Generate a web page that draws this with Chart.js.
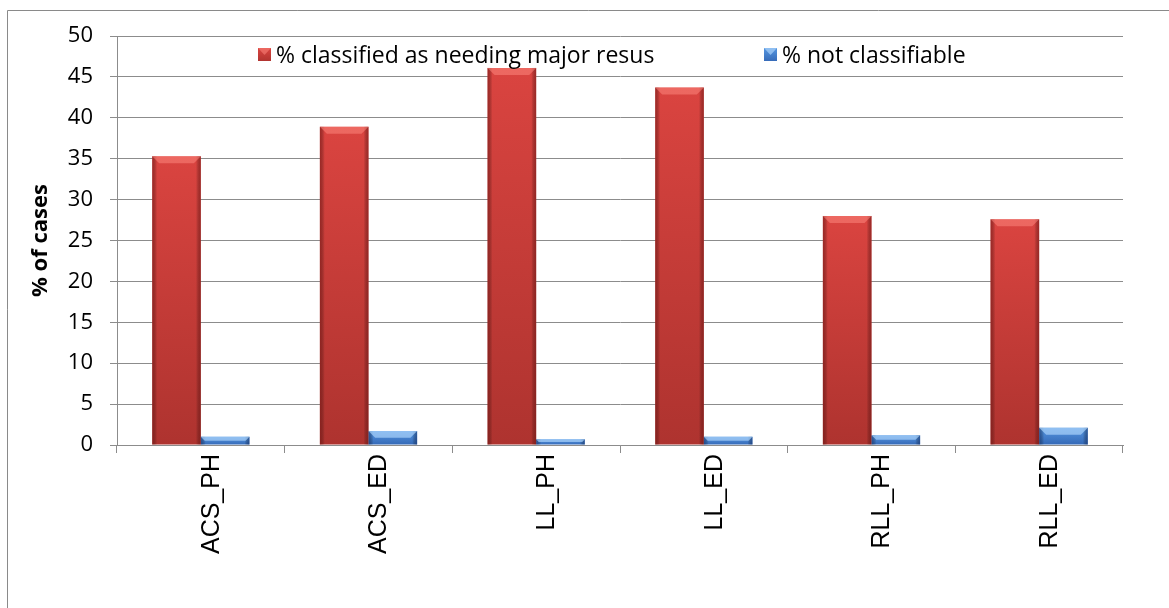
<!DOCTYPE html>
<html>
<head>
<meta charset="utf-8">
<script src="https://cdn.jsdelivr.net/npm/chart.js@4.4.1/dist/chart.umd.min.js"></script>
<style>
  html, body { margin: 0; padding: 0; background: #fff; }
  #wrap { width: 1169px; height: 608px; position: relative; }
</style>
</head>
<body>
<div id="wrap"><canvas id="chart"></canvas></div>
<script>
const categories = ["ACS_PH", "ACS_ED", "LL_PH", "LL_ED", "RLL_PH", "RLL_ED"]
const majorResus = [35.3, 38.9, 46.1, 43.7, 28.0, 27.6]
const notClassifiable = [1.0, 1.7, 0.7, 1.0, 1.2, 2.1]
const yMin = 0
const yMax = 50
const yStep = 5

const seriesNames = ["% classified as needing major resus", "% not classifiable"]

// colours for the bevelled bars: body top/bottom, side shade, top face
const looks = [
  { top: "#da4440", bottom: "#ae332f", edge: "rgba(110,20,18,0.55)", bevel: "rgba(255,140,130,0.5)" },
  { top: "#5596e0", bottom: "#3468b6", edge: "rgba(20,50,110,0.6)", bevel: "rgba(170,210,250,0.7)" }
]

const gridColor = "#8c8c8c"

function barFill(look) {
  return (c) => {
    const chart = c.chart
    const y = chart.scales.y
    if (!y || c.type !== "data" || !c.parsed) return look.bottom
    const yTop = y.getPixelForValue(c.parsed.y)
    const yBase = y.getPixelForValue(0)
    if (!isFinite(yTop) || !isFinite(yBase) || yTop === yBase) return look.bottom
    const g = chart.ctx.createLinearGradient(0, yTop, 0, yBase)
    g.addColorStop(0, look.top)
    g.addColorStop(1, look.bottom)
    return g
  }
}

// frame round the whole picture
const framePlugin = {
  id: "frame",
  beforeDraw(chart) {
    const ctx = chart.ctx
    ctx.save()
    ctx.fillStyle = "#fff"
    ctx.fillRect(0, 0, chart.width, chart.height)
    ctx.strokeStyle = "#8a8a8a"
    ctx.lineWidth = 1
    ctx.beginPath()
    ctx.moveTo(7.5, chart.height)
    ctx.lineTo(7.5, 10.5)
    ctx.lineTo(chart.width, 10.5)
    ctx.stroke()
    ctx.restore()
  }
}

// side shading and the raised top face on each bar
const bevelPlugin = {
  id: "bevel",
  afterDatasetsDraw(chart) {
    const ctx = chart.ctx
    ctx.save()
    chart.getSortedVisibleDatasetMetas().forEach((meta) => {
      const look = looks[meta.index]
      meta.data.forEach((bar) => {
        const { x, y, base, width } = bar.getProps(["x", "y", "base", "width"], true)
        const l = x - width / 2
        const r = x + width / 2
        const h = base - y
        if (h <= 0) return
        const g = ctx.createLinearGradient(l, 0, r, 0)
        g.addColorStop(0, look.edge)
        g.addColorStop(0.1, "rgba(0,0,0,0)")
        g.addColorStop(0.9, "rgba(0,0,0,0)")
        g.addColorStop(1, look.edge)
        ctx.fillStyle = g
        ctx.fillRect(l, y, width, h)

        const b = Math.min(7, h / 2)
        ctx.beginPath()
        ctx.moveTo(l, y)
        ctx.lineTo(r, y)
        ctx.lineTo(r - b, y + b)
        ctx.lineTo(l + b, y + b)
        ctx.closePath()
        ctx.fillStyle = look.bevel
        ctx.fill()
      })
    })
    ctx.restore()
  }
}

// legend sits inside the plot, across the top
const legendPlugin = {
  id: "innerLegend",
  afterDraw(chart) {
    const ctx = chart.ctx
    const area = chart.chartArea
    const slots = [area.left + 141, area.left + 647]
    const yMid = area.top + 19
    ctx.save()
    ctx.font = "23px 'Open Sans'"
    ctx.textBaseline = "middle"
    chart.data.datasets.forEach((ds, i) => {
      const look = looks[i]
      const sx = slots[i]
      const g = ctx.createLinearGradient(0, yMid - 7, 0, yMid + 7)
      g.addColorStop(0, look.top)
      g.addColorStop(1, look.bottom)
      ctx.fillStyle = g
      ctx.fillRect(sx, yMid - 7, 13, 13)
      ctx.beginPath()
      ctx.moveTo(sx, yMid - 7)
      ctx.lineTo(sx + 13, yMid - 7)
      ctx.lineTo(sx + 6.5, yMid)
      ctx.closePath()
      ctx.fillStyle = look.bevel
      ctx.fill()
      ctx.fillStyle = "#000"
      ctx.fillText(ds.label, sx + 18, yMid + 1)
    })
    ctx.restore()
  }
}

new Chart(document.getElementById("chart"), {
  type: "bar",
  data: {
    labels: categories,
    datasets: [
      { label: seriesNames[0], data: majorResus, backgroundColor: barFill(looks[0]) },
      { label: seriesNames[1], data: notClassifiable, backgroundColor: barFill(looks[1]) }
    ]
  },
  options: {
    responsive: true,
    maintainAspectRatio: false,
    animation: false,
    devicePixelRatio: 1,
    categoryPercentage: 0.58,
    barPercentage: 1.0,
    layout: { padding: { left: 24, right: 46, top: 36, bottom: 0 } },
    plugins: {
      legend: { display: false },
      tooltip: { enabled: false }
    },
    scales: {
      x: {
        grid: { drawOnChartArea: false, drawTicks: true, tickLength: 8, offset: true, color: gridColor },
        border: { color: gridColor },
        ticks: {
          autoSkip: false,
          minRotation: 90,
          maxRotation: 90,
          padding: 1,
          labelOffset: 11,
          color: "#000",
          font: { family: "'Liberation Sans', Arial", size: 25 }
        },
        afterFit(scale) { scale.height = 163 }
      },
      y: {
        min: yMin,
        max: yMax,
        ticks: {
          stepSize: yStep,
          padding: 17,
          color: "#000",
          font: { family: "'Open Sans'", size: 22 }
        },
        grid: { color: gridColor, tickLength: 7 },
        border: { color: gridColor },
        title: {
          display: true,
          text: "% of cases",
          color: "#000",
          font: { family: "'Open Sans'", size: 22, weight: "bold" },
          padding: { top: 4, bottom: 4 }
        },
        afterFit(scale) { scale.width = 93 }
      }
    }
  },
  plugins: [framePlugin, bevelPlugin, legendPlugin]
})
</script>
</body>
</html>
